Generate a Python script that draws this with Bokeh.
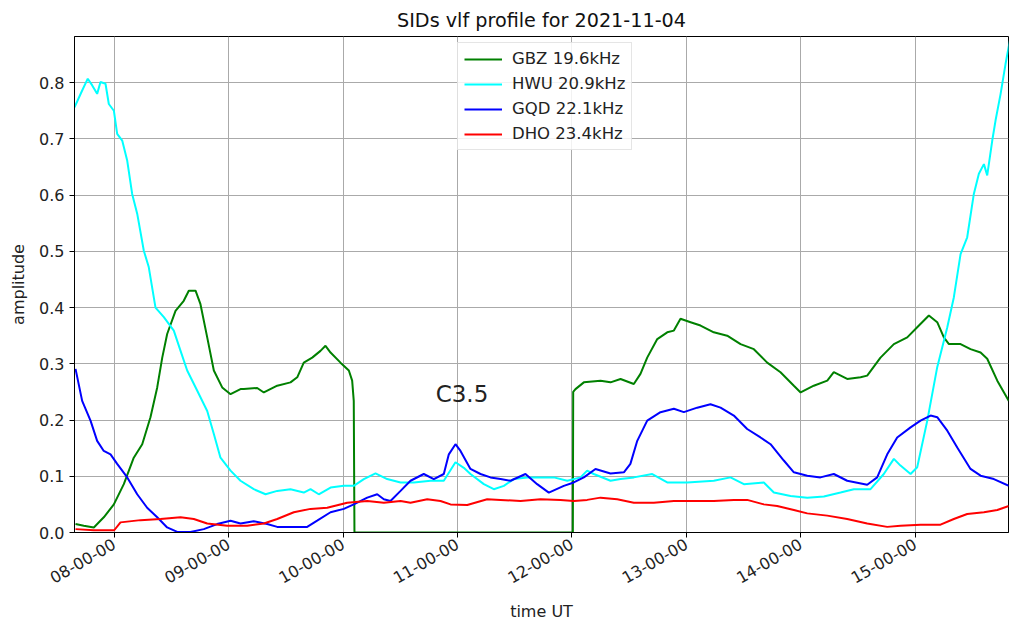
import math
from bokeh.plotting import figure
from bokeh.models import FixedTicker, Label, Range1d
from bokeh.embed import file_html
from bokeh.resources import INLINE

TITLE = "SIDs vlf profile for 2021-11-04"
X_LABEL = "time UT"
Y_LABEL = "amplitude"
X_TICKS = [8, 9, 10, 11, 12, 13, 14, 15]
X_TICK_LABELS = ["08-00-00", "09-00-00", "10-00-00", "11-00-00",
                 "12-00-00", "13-00-00", "14-00-00", "15-00-00"]
Y_TICKS = [0.0, 0.1, 0.2, 0.3, 0.4, 0.5, 0.6, 0.7, 0.8]
Y_TICK_LABELS = ["0.0", "0.1", "0.2", "0.3", "0.4", "0.5", "0.6", "0.7", "0.8"]
X_START, X_END = 7.653, 15.817
Y_START, Y_END = 0.0, 0.882

FLARE_TEXT = "C3.5"
FLARE_X, FLARE_Y = 10.81, 0.246

# time in decimal hours (UT), amplitude
gbz_t = [7.662, 7.734, 7.822, 7.909, 7.997, 8.084, 8.171, 8.245, 8.317, 8.376,
         8.420, 8.463, 8.536, 8.608, 8.652, 8.711, 8.754, 8.813, 8.871, 8.944,
         9.017, 9.104, 9.133, 9.250, 9.308, 9.425, 9.541, 9.600, 9.657, 9.731,
         9.803, 9.847, 9.891, 9.978, 10.051, 10.080, 10.094, 10.100, 12.009, 12.012,
         12.032, 12.105, 12.251, 12.338, 12.426, 12.542, 12.600, 12.659, 12.747, 12.834,
         12.892, 12.950, 13.038, 13.125, 13.241, 13.358, 13.475, 13.591, 13.708, 13.824,
         13.941, 14.000, 14.115, 14.233, 14.290, 14.407, 14.524, 14.582, 14.698, 14.815,
         14.932, 15.019, 15.121, 15.194, 15.252, 15.296, 15.398, 15.485, 15.573, 15.631,
         15.719, 15.820]
gbz_v = [0.015, 0.012, 0.009, 0.027, 0.050, 0.086, 0.133, 0.157, 0.205, 0.258,
         0.311, 0.353, 0.394, 0.412, 0.430, 0.430, 0.406, 0.347, 0.288, 0.258,
         0.246, 0.255, 0.255, 0.257, 0.249, 0.261, 0.267, 0.276, 0.302, 0.311,
         0.323, 0.332, 0.320, 0.302, 0.288, 0.270, 0.234, 0.0, 0.0, 0.250,
         0.255, 0.267, 0.270, 0.267, 0.273, 0.264, 0.282, 0.311, 0.344, 0.356,
         0.359, 0.380, 0.374, 0.368, 0.356, 0.350, 0.335, 0.326, 0.302, 0.285,
         0.261, 0.249, 0.261, 0.270, 0.285, 0.273, 0.276, 0.279, 0.311, 0.335,
         0.347, 0.365, 0.386, 0.374, 0.347, 0.335, 0.335, 0.326, 0.320, 0.309,
         0.270, 0.234]

hwu_t = [7.653, 7.720, 7.769, 7.808, 7.851, 7.880, 7.924, 7.953, 7.997, 8.026,
         8.070, 8.114, 8.157, 8.201, 8.259, 8.302, 8.361, 8.434, 8.521, 8.580,
         8.638, 8.726, 8.813, 8.871, 8.929, 9.017, 9.104, 9.220, 9.323, 9.425,
         9.541, 9.657, 9.716, 9.788, 9.891, 10.007, 10.094, 10.182, 10.284, 10.386,
         10.503, 10.619, 10.765, 10.881, 10.983, 11.056, 11.114, 11.231, 11.318, 11.406,
         11.493, 11.610, 11.726, 11.843, 11.960, 12.076, 12.134, 12.192, 12.338, 12.426,
         12.542, 12.703, 12.834, 13.009,
         13.241, 13.387, 13.504, 13.678, 13.766, 13.912, 14.058, 14.203, 14.349, 14.465,
         14.611, 14.727, 14.815, 14.873, 14.961, 15.019, 15.107, 15.194, 15.282, 15.339,
         15.398, 15.456, 15.514, 15.558, 15.602, 15.631, 15.675, 15.704, 15.748, 15.791,
         15.829]
hwu_v = [0.756, 0.786, 0.807, 0.795, 0.780, 0.801, 0.798, 0.762, 0.750, 0.709,
         0.697, 0.661, 0.602, 0.567, 0.501, 0.472, 0.400, 0.383, 0.359, 0.323,
         0.288, 0.252, 0.216, 0.175, 0.133, 0.110, 0.092, 0.077, 0.068, 0.074,
         0.077, 0.071, 0.077, 0.068, 0.080, 0.083, 0.083, 0.095, 0.105, 0.095,
         0.089, 0.089, 0.092, 0.092, 0.125, 0.115, 0.104, 0.086, 0.077, 0.083,
         0.095, 0.098, 0.098, 0.098, 0.092, 0.098, 0.110, 0.104, 0.092, 0.095,
         0.098, 0.104, 0.089, 0.089,
         0.092, 0.098, 0.086, 0.089, 0.071, 0.065, 0.062, 0.064, 0.071, 0.077,
         0.077, 0.104, 0.131, 0.119, 0.104, 0.116, 0.199, 0.294, 0.365, 0.418,
         0.495, 0.525, 0.602, 0.638, 0.655, 0.635, 0.697, 0.733, 0.780, 0.833,
         0.875]

gqd_t = [7.662, 7.720, 7.793, 7.851, 7.909, 7.968, 8.026, 8.114, 8.201, 8.288,
         8.376, 8.463, 8.551, 8.667, 8.783, 8.900, 9.017, 9.104, 9.220, 9.337,
         9.425, 9.541, 9.687, 9.774, 9.891, 10.007, 10.094, 10.212, 10.299, 10.357,
         10.415, 10.503, 10.590, 10.706, 10.794, 10.881, 10.925, 10.983, 11.027, 11.114,
         11.202, 11.289, 11.377, 11.464, 11.595, 11.697, 11.799, 11.930, 12.017, 12.105,
         12.207, 12.338, 12.455, 12.512, 12.572, 12.659, 12.775, 12.892, 12.979, 13.096,
         13.212, 13.300, 13.416, 13.533, 13.649, 13.737, 13.853, 13.941, 14.058, 14.173,
         14.290, 14.407, 14.582, 14.669, 14.757, 14.844, 14.961, 15.048, 15.136, 15.194,
         15.282, 15.369, 15.485, 15.573, 15.689, 15.820]
gqd_v = [0.291, 0.234, 0.199, 0.163, 0.145, 0.139, 0.122, 0.098, 0.068, 0.044,
         0.027, 0.009, 0.001, 0.001, 0.006, 0.015, 0.021, 0.016, 0.020, 0.015,
         0.010, 0.010, 0.010, 0.021, 0.036, 0.042, 0.050, 0.062, 0.068, 0.059,
         0.056, 0.074, 0.092, 0.104, 0.095, 0.104, 0.139, 0.157, 0.145, 0.113,
         0.104, 0.098, 0.095, 0.092, 0.104, 0.086, 0.071, 0.083, 0.089, 0.098,
         0.113, 0.105, 0.107, 0.122, 0.163, 0.199, 0.214, 0.220, 0.214, 0.222,
         0.228, 0.222, 0.208, 0.184, 0.169, 0.157, 0.128, 0.107, 0.101, 0.098,
         0.104, 0.092, 0.085, 0.098, 0.139, 0.169, 0.187, 0.199, 0.208, 0.205,
         0.181, 0.151, 0.113, 0.101, 0.095, 0.083]

dho_t = [7.662, 7.822, 8.000, 8.055, 8.230, 8.405, 8.580, 8.696, 8.813, 8.988,
         9.163, 9.308, 9.425, 9.570, 9.716, 9.862, 10.037, 10.212, 10.357, 10.503,
         10.590, 10.736, 10.852, 10.940, 11.086, 11.260, 11.377, 11.552, 11.726, 11.901,
         12.017, 12.134, 12.251, 12.397, 12.542, 12.717, 12.892, 13.066, 13.241, 13.416,
         13.533, 13.678, 13.795, 13.941, 14.058, 14.233, 14.407, 14.582, 14.757, 14.873,
         15.048, 15.223, 15.339, 15.456, 15.602, 15.719, 15.820]
dho_v = [0.006, 0.004, 0.004, 0.018, 0.022, 0.024, 0.027, 0.024, 0.016, 0.012,
         0.012, 0.016, 0.024, 0.036, 0.042, 0.044, 0.053, 0.056, 0.053, 0.056,
         0.053, 0.059, 0.056, 0.050, 0.049, 0.059, 0.058, 0.056, 0.059, 0.058,
         0.056, 0.058, 0.062, 0.059, 0.053, 0.053, 0.056, 0.056, 0.056, 0.058,
         0.058, 0.050, 0.047, 0.040, 0.034, 0.030, 0.024, 0.016, 0.010, 0.012,
         0.014, 0.014, 0.024, 0.033, 0.036, 0.040, 0.047]

SERIES = [
    ("GBZ 19.6kHz", gbz_t, gbz_v, "green"),
    ("HWU 20.9kHz", hwu_t, hwu_v, "cyan"),
    ("GQD 22.1kHz", gqd_t, gqd_v, "blue"),
    ("DHO 23.4kHz", dho_t, dho_v, "red"),
]

FONT = "DejaVu Sans"

p = figure(
    frame_width=934, frame_height=496,
    min_border_left=74, min_border_right=2, min_border_top=36, min_border_bottom=88,
    x_range=Range1d(X_START, X_END), y_range=Range1d(Y_START, Y_END),
    output_backend="svg", toolbar_location=None, title=TITLE,
)
p.background_fill_color = "white"
p.border_fill_color = "white"
p.outline_line_color = "black"
p.outline_line_width = 1

p.title.text_font = FONT
p.title.text_font_size = "19.2px"
p.title.text_font_style = "normal"
p.title.text_color = "#111111"
p.title.align = "center"
p.title.standoff = 9

for ax in (p.xaxis[0], p.yaxis[0]):
    ax.major_label_text_font = FONT
    ax.major_label_text_font_size = "16px"
    ax.major_label_text_color = "#222222"
    ax.axis_label_text_font = FONT
    ax.axis_label_text_font_size = "16px"
    ax.axis_label_text_font_style = "normal"
    ax.axis_label_text_color = "#222222"
    ax.major_tick_in = 0
    ax.major_tick_out = 5
    ax.minor_tick_line_color = None
    ax.axis_line_color = "black"
    ax.major_tick_line_color = "black"

p.xaxis[0].ticker = FixedTicker(ticks=X_TICKS)
p.xaxis[0].major_label_overrides = {t: l for t, l in zip(X_TICKS, X_TICK_LABELS)}
p.xaxis[0].major_label_orientation = math.pi / 6
p.xaxis[0].axis_label = X_LABEL
p.xaxis[0].axis_label_standoff = 10

p.yaxis[0].ticker = FixedTicker(ticks=Y_TICKS)
p.yaxis[0].major_label_overrides = {t: l for t, l in zip(Y_TICKS, Y_TICK_LABELS)}
p.yaxis[0].axis_label = Y_LABEL
p.yaxis[0].axis_label_standoff = 8

p.xgrid.ticker = FixedTicker(ticks=X_TICKS)
p.ygrid.ticker = FixedTicker(ticks=Y_TICKS)
for g in (p.xgrid[0], p.ygrid[0]):
    g.grid_line_color = "#aaaaaa"
    g.grid_line_width = 1

for name, t, v, color in SERIES:
    p.line(t, v, line_color=color, line_width=2, legend_label=name)

p.add_layout(Label(x=FLARE_X, y=FLARE_Y, text=FLARE_TEXT, text_font=FONT,
                   text_font_size="23px", text_color="#222222",
                   text_baseline="middle", text_align="left"))

lg = p.legend[0]
lg.location = (383, 382)
lg.margin = 0
lg.padding = 6
lg.spacing = 6
lg.glyph_width = 38
lg.glyph_height = 18
lg.label_standoff = 10
lg.label_text_font = FONT
lg.label_text_font_size = "16.5px"
lg.label_text_color = "#222222"
lg.background_fill_color = "white"
lg.background_fill_alpha = 0.85
lg.border_line_color = "#cccccc"
lg.border_line_width = 1

open("out.html", "w").write(file_html(p, INLINE))
